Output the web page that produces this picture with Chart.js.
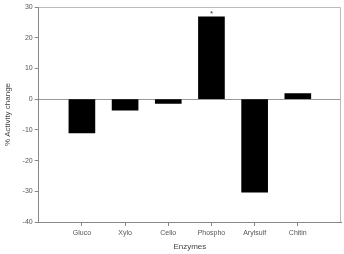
<!DOCTYPE html>
<html><head><meta charset="utf-8">
<script src="https://cdn.jsdelivr.net/npm/chart.js@4/dist/chart.umd.min.js"></script>
<style>html,body{margin:0;padding:0;background:#fff}canvas{display:block}</style>
</head><body>
<canvas id="c" width="344" height="254"></canvas>
<script>
const categories = ['Gluco', 'Xylo', 'Cello', 'Phospho', 'Arylsulf', 'Chitin'];
const activityChange = [-11, -3.6, -1.4, 26.8, -30.3, 1.8];
const significant = ['', '', '', '*', '', ''];
const yTicks = [-40, -30, -20, -10, 0, 10, 20, 30];

const font = {family: '"Liberation Sans", Arial, sans-serif', size: 7};

const framePlugin = {
  id: 'frame',
  afterDraw(chart) {
    const {ctx, chartArea: a} = chart;
    ctx.save();
    ctx.strokeStyle = '#bbb';
    ctx.lineWidth = 1;
    ctx.beginPath();
    ctx.moveTo(a.left, a.top + 0.5);
    ctx.lineTo(a.right - 0.5, a.top + 0.5);
    ctx.lineTo(a.right - 0.5, a.bottom);
    ctx.stroke();
    const meta = chart.getDatasetMeta(0);
    ctx.fillStyle = '#333';
    ctx.font = '8px "Liberation Sans", Arial, sans-serif';
    ctx.textAlign = 'center';
    ctx.textBaseline = 'bottom';
    meta.data.forEach((el, i) => {
      if (significant[i]) ctx.fillText(significant[i], el.x, el.y + 1);
    });
    ctx.restore();
  }
};

new Chart(document.getElementById('c'), {
  type: 'bar',
  data: {
    datasets: [{
      data: categories.map((c, i) => ({x: i + 1, y: activityChange[i]})),
      backgroundColor: '#000',
      borderWidth: 0,
      barThickness: 26
    }]
  },
  options: {
    responsive: false,
    animation: false,
    plugins: {legend: {display: false}, tooltip: {enabled: false}},
    layout: {padding: {top: 7, right: 3, left: 3, bottom: 0}},
    scales: {
      x: {
        type: 'linear',
        min: 0, max: 7,
        offset: false,
        afterBuildTicks: (axis) => { axis.ticks = categories.map((c, i) => ({value: i + 1})); },
        ticks: {font, color: '#555', padding: 3, maxRotation: 0, autoSkip: false,
          callback: (v) => categories[v - 1]},
        grid: {offset: false, drawOnChartArea: false, tickLength: 4, tickColor: '#888'},
        border: {color: '#888'},
        title: {display: true, text: 'Enzymes', font: {family: font.family, size: 8}, color: '#444', padding: {top: 2, bottom: 2}}
      },
      y: {
        min: -40, max: 30,
        afterBuildTicks: (axis) => { axis.ticks = yTicks.map(v => ({value: v})); },
        ticks: {font, color: '#555', padding: 2},
        grid: {
          color: (ctx) => ctx.tick && ctx.tick.value === 0 ? '#999' : 'rgba(0,0,0,0)',
          tickColor: '#888', tickLength: 4
        },
        border: {color: '#888'},
        title: {display: true, text: '% Activity change', font: {family: font.family, size: 8}, color: '#444', padding: {top: 0, bottom: 8}}
      }
    }
  },
  plugins: [framePlugin]
});
</script>
</body></html>
